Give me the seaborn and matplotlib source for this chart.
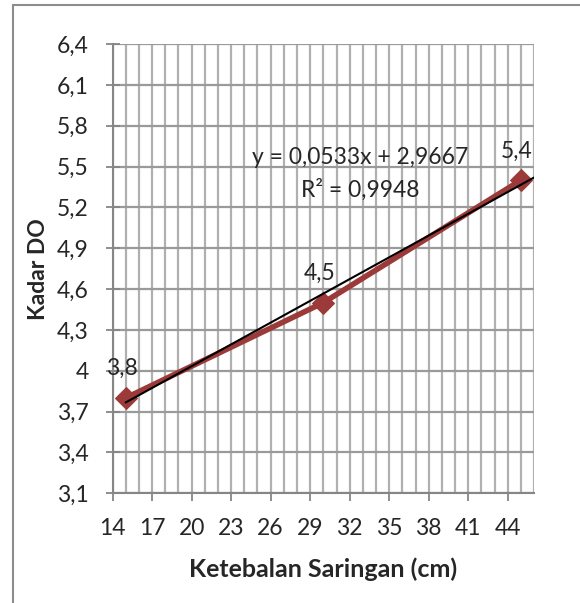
import numpy as np
import matplotlib
matplotlib.use("Agg")
import matplotlib.pyplot as plt
from matplotlib.ticker import MultipleLocator, FuncFormatter
import seaborn as sns

# data
ketebalan = [15, 30, 45]
kadar_do = [3.8, 4.5, 5.4]
x_ticks = [14, 17, 20, 23, 26, 29, 32, 35, 38, 41, 44]
y_ticks = [3.1, 3.4, 3.7, 4.0, 4.3, 4.6, 4.9, 5.2, 5.5, 5.8, 6.1, 6.4]

sns.set_theme(style="white")
plt.rcParams['font.family'] = ['Lato', 'DejaVu Sans']
FS = 16.5


def koma(v, pos=None):
    s = f"{v:.1f}".replace(".", ",")
    return s[:-2] if s.endswith(",0") else s


fig = plt.figure(figsize=(5.8, 6.03), dpi=100)
ax = fig.add_axes([0.194, 0.182, 0.727, 0.745])

# grid: minor vertical every 1 cm, horizontal at each major y tick
ax.set_xlim(14, 46)
ax.set_ylim(3.1, 6.4)
ax.set_xticks(x_ticks)
ax.set_yticks(y_ticks)
ax.xaxis.set_minor_locator(MultipleLocator(1))
ax.grid(True, which="both", axis="x", color="#b0b0b0", linewidth=1.6)
ax.grid(True, which="major", axis="y", color="#9a9a9a", linewidth=1.6)
ax.set_axisbelow(True)
ax.yaxis.set_major_formatter(FuncFormatter(koma))

# trendline
slope, intercept = np.polyfit(ketebalan, kadar_do, 1)
xt = np.array([min(ketebalan), 46])
ax.plot(xt, slope * xt + intercept, color="black", linewidth=1.5, zorder=4)

sns.lineplot(x=ketebalan, y=kadar_do, ax=ax, color="#9b3a38", linewidth=4,
             marker="D", markersize=11, markeredgecolor="#9b3a38", zorder=3)

for xv, yv in zip(ketebalan, kadar_do):
    ax.annotate(koma(yv), (xv, yv), xytext=(-3, 21), textcoords="offset points",
                ha="center", va="center", fontsize=FS)

ax.text(0.588, 0.748, f"y = {slope:.4f}x + {intercept:.4f}".replace(".", ","),
        transform=ax.transAxes, ha="center", va="center", fontsize=FS)
ax.text(0.588, 0.675, "R² = 0,9948", transform=ax.transAxes, ha="center",
        va="center", fontsize=FS)

for side in ["top", "right"]:
    ax.spines[side].set_visible(False)
for side in ["left", "bottom"]:
    ax.spines[side].set_color("#868686")
    ax.spines[side].set_linewidth(1.5)

ax.tick_params(axis="y", which="major", direction="inout", length=10, width=1.3,
               color="#868686", labelsize=FS, pad=12, left=True)
ax.tick_params(axis="x", which="major", direction="out", length=6, width=1.3,
               color="#868686", labelsize=FS, pad=12, bottom=True)
ax.tick_params(axis="x", which="minor", bottom=False)

ax.set_xlabel("Ketebalan Saringan (cm)", fontsize=18, fontweight="bold", labelpad=13)
ax.set_ylabel("Kadar DO", fontsize=16.5, fontweight="bold", labelpad=6)

# outer chart border (cut off on right and bottom)
fig.add_artist(plt.Line2D([13 / 580, 13 / 580], [0, 1 - 5 / 603], color="#8c8c8c",
                          linewidth=1.5, transform=fig.transFigure))
fig.add_artist(plt.Line2D([13 / 580, 1], [1 - 5 / 603, 1 - 5 / 603], color="#8c8c8c",
                          linewidth=1.5, transform=fig.transFigure))

fig.savefig("out.png", dpi=100)
